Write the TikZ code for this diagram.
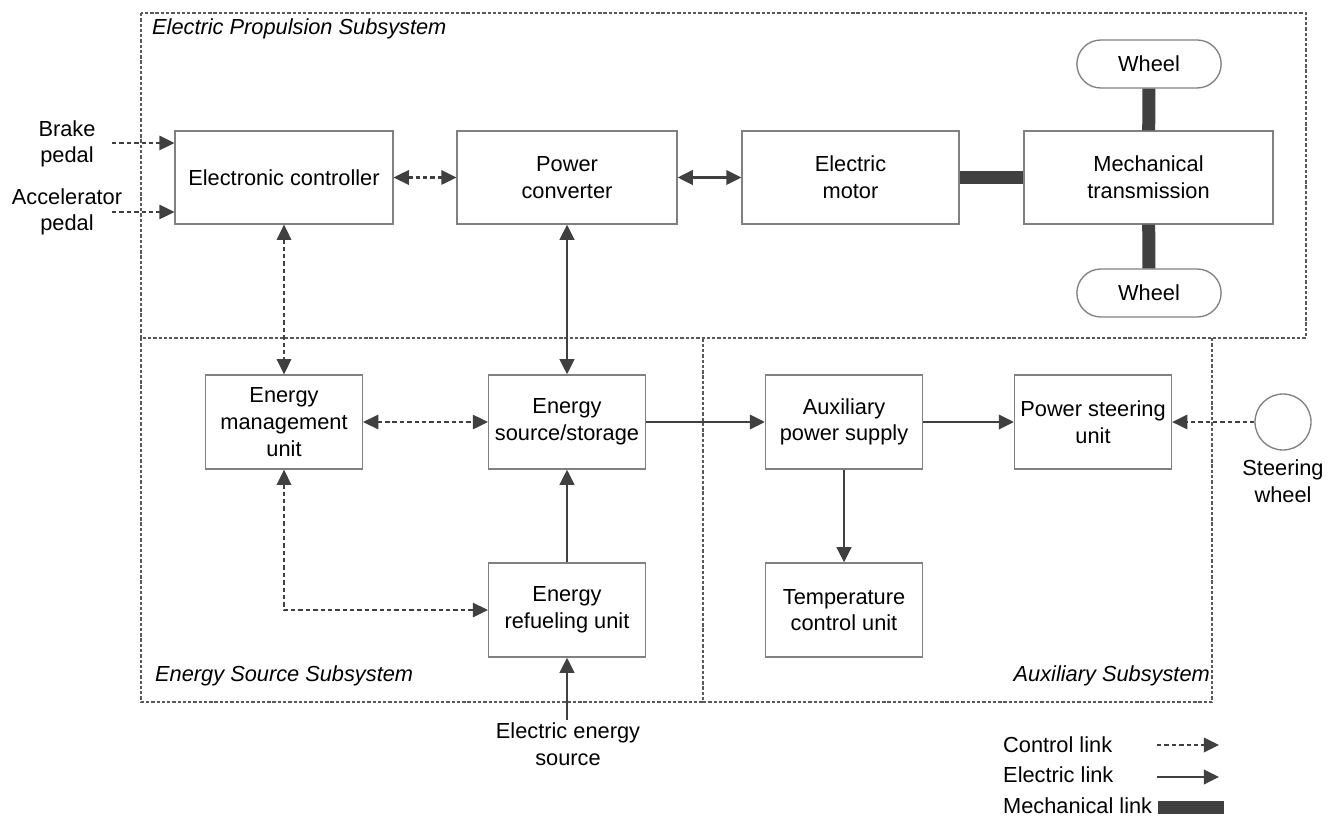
\documentclass[tikz,border=0pt]{standalone}
\usepackage{fontspec}
\setmainfont{Liberation Sans}
\usetikzlibrary{arrows.meta,shapes.misc,positioning}

\begin{document}
\begin{tikzpicture}[x=0.02cm,y=-0.02cm,font=\fontsize{12.4}{15.2}\selectfont,>={Triangle[length=8.6pt,width=8.2pt]}]
		\tikzstyle{block}=[draw=black!50,line width=0.75pt,align=center,inner sep=2pt,minimum width=3.14cm,minimum height=1.88cm]
		\tikzstyle{wheel}=[draw=black!50,line width=0.75pt,rounded rectangle,minimum width=3.12cm,minimum height=0.96cm]
		\tikzstyle{subsys}=[draw=black!65,line width=0.6pt,dash pattern=on 1.9pt off 1.1pt]
		\tikzstyle{sublabel}=[font=\fontsize{12.4}{15.2}\selectfont\itshape]
		\tikzstyle{ctl}=[draw=black!75,line width=1.2pt,dash pattern=on 2.5pt off 1.7pt]
		\tikzstyle{elec}=[draw=black!75,line width=1.4pt]
		\tikzstyle{mechl}=[draw=black!75,line width=0.26cm]

		\fill[white] (0,0) rectangle (1332,816);

		% subsystems (shared edges drawn once)
		\draw[subsys] (141,13) rectangle (1306,338);
		\draw[subsys] (141,338) -- (141,702) -- (703,702) -- (703,338);
		\draw[subsys] (703,702) -- (1212,702) -- (1212,338);
		\node[sublabel,anchor=west] at (146,29){Electric Propulsion Subsystem};
		\node[sublabel,anchor=west] at (149,676){Energy Source Subsystem};
		\node[sublabel,anchor=east] at (1216,676){Auxiliary Subsystem};

		% propulsion
		\node[block,minimum width=4.36cm,minimum height=1.86cm](ctrl) at (284,177.5){Electronic controller};
		\node[block,minimum width=4.4cm,minimum height=1.86cm](conv) at (567,177.5){Power\\converter};
		\node[block,minimum width=4.34cm,minimum height=1.86cm](motor) at (850.5,177.5){Electric\\motor};
		\node[block,minimum width=4.98cm,minimum height=1.86cm](mech) at (1148.5,177.5){Mechanical\\transmission};
		\node[wheel](w1) at (1149,64){Wheel};
		\node[wheel](w2) at (1149,293){Wheel};

		\node[align=center](brake) at (67,144){Brake\\pedal};
		\node[align=center](accel) at (67,212){Accelerator\\pedal};
		\coordinate (b0) at (112,143);
		\coordinate (a0) at (112,212);

		% energy source
		\node[block](emu) at (284,422){Energy\\management\\unit};
		\node[block](src) at (567,422){Energy\\source/storage};
		\node[block](ref) at (567,610){Energy\\refueling unit};
		\node[align=center](esrc) at (568,744){Electric energy\\source};
		\coordinate (e0) at (567,720);

		% auxiliary
		\node[block](aux) at (844,422){Auxiliary\\power supply};
		\node[block](ps) at (1093,422){Power steering\\unit};
		\node[block](tcu) at (844,610){Temperature\\control unit};
		\node[draw=black!50,line width=0.75pt,circle,minimum size=1.12cm](sw) at (1283,422){};
		\node[align=center](swl) at (1283,481){Steering\\wheel};

		% links
		\draw[ctl,->] (b0) -- (ctrl.west |- b0);
		\draw[ctl,->] (a0) -- (ctrl.west |- a0);
		\draw[ctl,<->] (ctrl) -- (conv);
		\draw[elec,<->] (conv) -- (motor);
		\draw[mechl] (motor) -- (mech);
		\draw[mechl] (w1) -- (mech);
		\draw[mechl] (mech) -- (w2);
		\draw[ctl,<->] (ctrl) -- (emu);
		\draw[elec,<->] (conv) -- (src);
		\draw[ctl,<->] (emu) -- (src);
		\draw[ctl,<->] (emu.south) |- (ref.west);
		\draw[elec,->] (ref) -- (src);
		\draw[elec,->] (e0) -- (ref.south);
		\draw[elec,->] (src) -- (aux);
		\draw[elec,->] (aux) -- (ps);
		\draw[elec,->] (aux) -- (tcu);
		\draw[ctl,->] (sw) -- (ps);

		% legend
		\node[anchor=west](lc) at (997,745){Control link};
		\node[anchor=west](le) at (997,775){Electric link};
		\node[anchor=west](lm) at (997,806){Mechanical link};
		\coordinate (lc0) at (1157,745);
		\coordinate (lc1) at (1219,745);
		\coordinate (le0) at (1157,777);
		\coordinate (le1) at (1219,777);
		\coordinate (lm0) at (1158,807.5);
		\coordinate (lm1) at (1224,807.5);
		\draw[ctl,->] (lc0) -- (lc1);
		\draw[elec,->] (le0) -- (le1);
		\draw[mechl] (lm0) -- (lm1);
	\end{tikzpicture}
\end{document}
